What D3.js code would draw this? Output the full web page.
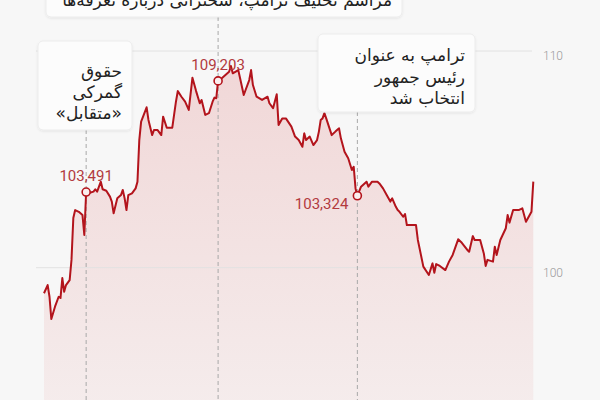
<!DOCTYPE html>
<html><head><meta charset="utf-8">
<script src="https://cdn.jsdelivr.net/npm/d3@7"></script>
<style>
html,body{margin:0;padding:0;background:#f7f7f7;overflow:hidden;}
svg{display:block;}
</style></head>
<body><svg id="chart" width="600" height="400"></svg>
<script>
// ---- data (chronological; the chart's time axis runs right-to-left) ----
const startDate = "2024-08-01";
const dayOffsets = [0,1,4,6,8,11,13,14,15,18,
  20,21,22,25,26,27,29,32,33,35,
  36,39,41,44,46,48,51,53,54,55,
  57,60,63,64,66,69,70,71,73,74,
  75,77,78,80,82,84,85,88,90,91,
  94,96,97,98,99,101,103,105,106,108,
  110,113,114,115,116,117,118,120,122,124,
  125,126,128,130,132,135,137,139,140,142,
  144,145,148,151,153,154,155,157,158,160,
  161,164,165,166,168,170,172,173,174,175,
  177,179,181,182,184,186,188,190,192,194,
  195,197,200,202,203,205,207,208,210,211,
  214,215,216,217,219,221,222,223,224,225,
  227,229,230,231,233,235,236,238,239,240,
  242,244,245,246,248,250,251,252,253,255,
  256,257,258,259,261,263,264,265,267];
const indexValues = [103.97,102.58,102.12,102.74,102.66,102.66,102.08,102.43,101.82,101.28,
  100.59,100.97,100.28,100.36,100.08,100.66,101.28,101.28,101.46,100.74,
  100.82,101.15,101.31,100.59,100.28,99.89,100.08,100.17,99.77,100.20,
  99.66,100.05,101.28,101.97,101.97,101.97,102.48,102.35,102.58,102.66,
  102.81,103.20,103.05,103.35,103.66,103.89,103.97,103.97,103.74,103.97,
  103.74,103.32,103.66,104.66,104.51,105.05,105.35,105.97,106.43,106.28,
  106.12,106.89,107.13,106.89,106.82,106.28,105.89,105.66,106.05,105.89,
  106.20,105.58,105.89,106.05,106.51,106.89,106.89,106.59,108.00,107.36,
  107.59,107.89,107.74,107.89,108.43,109.12,108.66,108.20,107.97,108.74,
  109.12,108.97,109.31,109.04,108.89,108.74,108.62,107.82,107.85,107.66,
  107.13,107.05,107.74,107.59,108.15,108.77,107.28,107.66,107.89,108.15,
  107.66,106.46,106.46,106.97,106.12,106.35,106.35,106.12,106.82,107.40,
  106.74,105.89,103.97,103.66,103.43,103.35,102.66,103.20,103.59,103.35,
  103.20,102.51,103.05,103.28,103.55,103.62,103.97,103.51,103.62,103.51,
  103.46,103.49,101.51,102.43,102.58,102.66,102.29,100.36,99.43,99.20,
  98.89,99.52,98.60,98.66,98.20,97.63,98.66,99.20,98.82];
const yTicks = [100, 110];
const eventDays = [244, 172, 96];
const eventValueLabels = ["103,491", "109,203", "103,324"];
const eventNotes = [
  ["حقوق", "گمرکی", "«متقابل»"],
  ["مراسم تحلیف ترامپ، سخنرانی درباره تعرفه‌ها"],
  ["ترامپ به عنوان", "رئیس جمهور", "انتخاب شد"]
];

// ---- build ----
const W = 600, H = 400;
const svg = d3.select("#chart");
const start = d3.timeParse("%Y-%m-%d")(startDate);
const series = dayOffsets.map((d, i) => ({ date: d3.timeDay.offset(start, d), v: indexValues[i] }));

const x = d3.scaleTime()
  .domain(d3.extent(series, d => d.date))
  .range([533.3, 44]);
const y = d3.scaleLinear().domain([100, 110]).range([267.7, 51]);

const defs = svg.append("defs");
const grad = defs.append("linearGradient").attr("id", "fillGrad")
  .attr("gradientUnits", "userSpaceOnUse").attr("x1", 0).attr("x2", 0).attr("y1", 60).attr("y2", 400);
grad.append("stop").attr("offset", 0).attr("stop-color", "#d23a3a").attr("stop-opacity", 0.17);
grad.append("stop").attr("offset", 1).attr("stop-color", "#d23a3a").attr("stop-opacity", 0.06);
const shadow = defs.append("filter").attr("id", "shadow").attr("x", "-10%").attr("y", "-10%").attr("width", "120%").attr("height", "130%");
shadow.append("feDropShadow").attr("dx", 0).attr("dy", 1).attr("stdDeviation", 1.2).attr("flood-color", "#000").attr("flood-opacity", 0.08);

// area
svg.append("path").datum(series)
  .attr("d", d3.area().x(d => x(d.date)).y0(H).y1(d => y(d.v)))
  .attr("fill", "url(#fillGrad)");

// gridlines + labels
const grid = svg.append("g");
yTicks.forEach(t => {
  grid.append("line").attr("x1", 36).attr("x2", 532).attr("y1", y(t)).attr("y2", y(t))
    .attr("stroke", "#e2e2e2").attr("stroke-width", 1);
  grid.append("text").attr("x", 543).attr("y", y(t) + 9)
    .attr("font-family", "Roboto, 'Liberation Sans', sans-serif").attr("font-size", 12)
    .attr("font-weight", 300).attr("fill", "#9a9a9a").text(t);
});

// event layout (box geometry)
const boxes = [
  { x0: 38, x1: 132, y0: 41, y1: 130, lh: 21, first: 77, labelPos: "above" },
  { x0: 46, x1: 402, y0: -30, y1: 17, lh: 21, first: 6, labelPos: "above" },
  { x0: 318, x1: 475, y0: 34, y1: 112, lh: 21.5, first: 61, labelPos: "left" }
];

const events = eventDays.map((d, i) => {
  const date = d3.timeDay.offset(start, d);
  const pt = series.find(s => +s.date === +date);
  return { date, v: pt.v, label: eventValueLabels[i], note: eventNotes[i], box: boxes[i] };
});

// dashed guides
events.forEach(e => {
  svg.append("line").attr("x1", x(e.date)).attr("x2", x(e.date))
    .attr("y1", e.box.y1).attr("y2", H)
    .attr("stroke", "#a8a8a8").attr("stroke-width", 1).attr("stroke-dasharray", "4,3");
});

// line
svg.append("path").datum(series)
  .attr("d", d3.line().x(d => x(d.date)).y(d => y(d.v)))
  .attr("fill", "none").attr("stroke", "#b3141c").attr("stroke-width", 2)
  .attr("stroke-linejoin", "round");

// boxes
events.forEach(e => {
  const b = e.box;
  svg.append("rect").attr("x", b.x0).attr("y", b.y0).attr("width", b.x1 - b.x0).attr("height", b.y1 - b.y0)
    .attr("rx", 5).attr("fill", "#fcfcfc").attr("stroke", "#ececec").attr("filter", "url(#shadow)");
  const t = svg.append("text")
    .attr("font-family", "'DejaVu Sans', 'Noto Sans', sans-serif").attr("font-size", 17)
    .attr("fill", "#222").attr("direction", "rtl").attr("text-anchor", "start");
  e.note.forEach((line, j) => {
    t.append("tspan").attr("x", b.x1 - 10).attr("y", b.first + j * b.lh).text(line);
  });
});

// markers + value labels
events.forEach(e => {
  const cx = x(e.date), cy = y(e.v);
  svg.append("circle").attr("cx", cx).attr("cy", cy).attr("r", 4)
    .attr("fill", "#fbeeee").attr("stroke", "#b3141c").attr("stroke-width", 1.6);
  const lbl = svg.append("text")
    .attr("font-family", "Roboto, 'Liberation Sans', sans-serif").attr("font-size", 15)
    .attr("fill", "#b23a3e").text(e.label);
  if (e.box.labelPos === "above") {
    lbl.attr("x", cx).attr("y", cy - 11).attr("text-anchor", "middle");
  } else {
    lbl.attr("x", cx - 9).attr("y", cy + 13).attr("text-anchor", "end");
  }
});
</script>
</body></html>
